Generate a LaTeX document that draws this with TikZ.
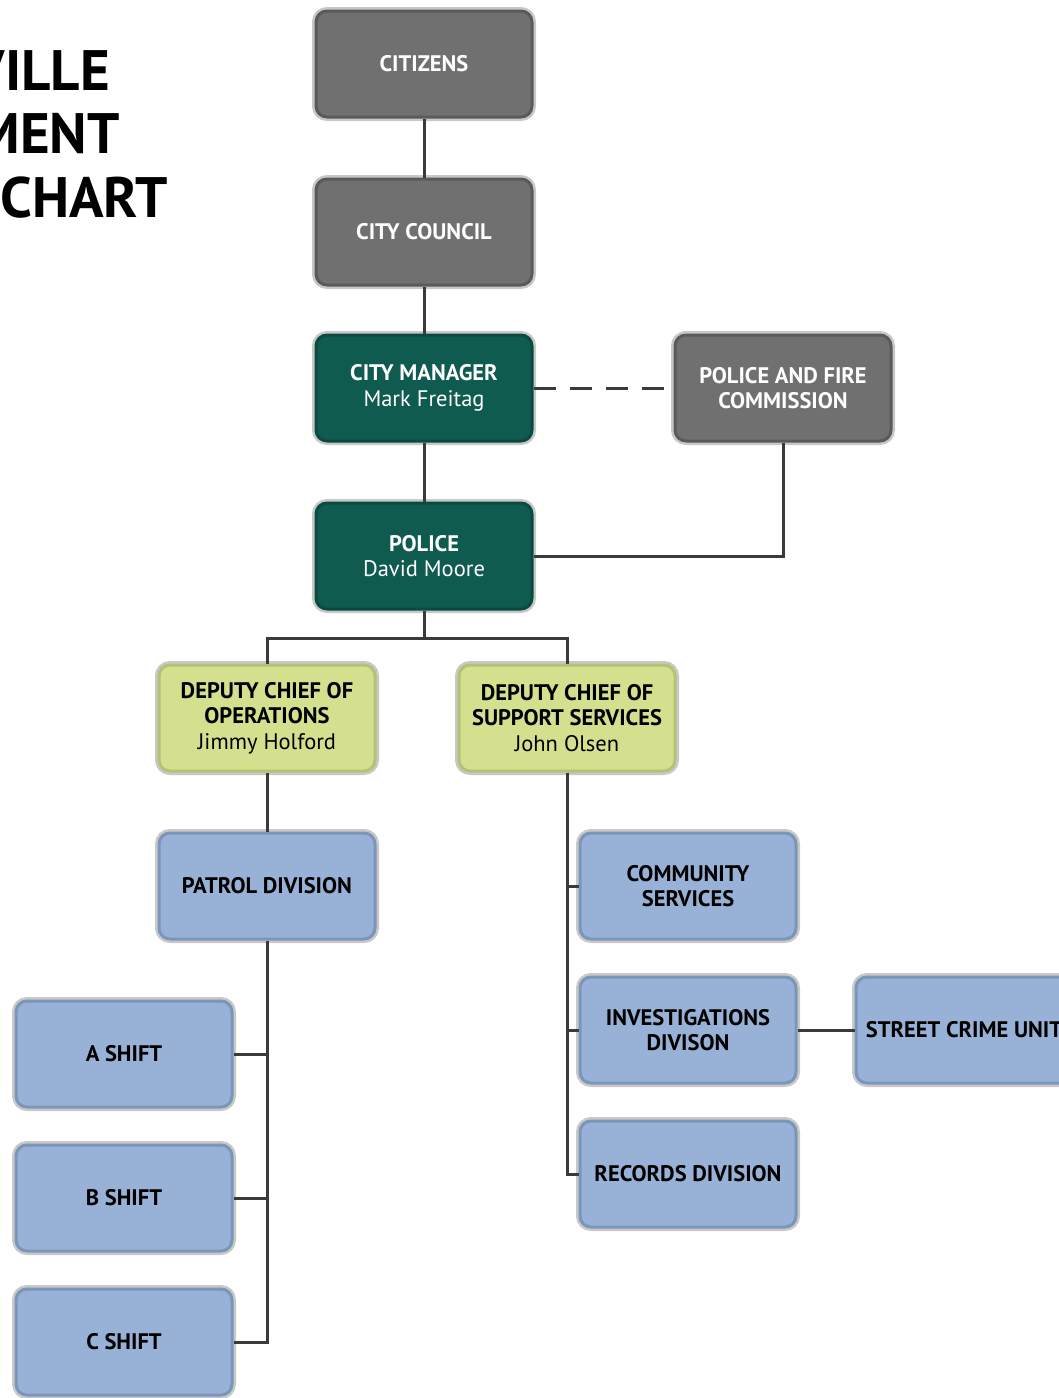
\documentclass[tikz,border=0pt]{standalone}
\usepackage{fontspec}
\setmainfont{PT Sans}
\definecolor{halo}{HTML}{C8C8C8}
\definecolor{greyfill}{HTML}{707070}
\definecolor{greyline}{HTML}{5A5A5A}
\definecolor{tealfill}{HTML}{0F5B50}
\definecolor{tealline}{HTML}{0A4A40}
\definecolor{limefill}{HTML}{D5E08F}
\definecolor{limeline}{HTML}{B5C274}
\definecolor{bluefill}{HTML}{98B2D7}
\definecolor{blueline}{HTML}{7C95BA}
\definecolor{wirecol}{HTML}{3A3A3A}
\tikzset{
  office/.style={rounded corners=11pt, minimum width=216pt, minimum height=106pt,
    align=center, line width=3pt, font=\fontsize{22.5}{25.5}\selectfont\bfseries,
    preaction={draw=halo, line width=8pt}},
  greybox/.style={office, fill=greyfill, draw=greyline, text=white},
  tealbox/.style={office, fill=tealfill, draw=tealline, text=white},
  limebox/.style={office, fill=limefill, draw=limeline, text=black},
  bluebox/.style={office, fill=bluefill, draw=blueline, text=black},
  wire/.style={draw=wirecol, line width=3pt},
  heading/.style={anchor=base east, inner sep=0pt, font=\fontsize{57}{60}\selectfont\bfseries}
}
% plain box: style, name, position, text
\newcommand{\unitbox}[4]{%
 \node[#1] (#2) at (#3) {#4};%
}
% box with a person: style, name, position, title, person
\newcommand{\officer}[5]{%
 \node[#1] (#2) at (#3) {#4\\\mdseries #5};%
}
\begin{document}
\begin{tikzpicture}[x=1pt,y=-1pt]
  \useasboundingbox (0,0) rectangle (1058,1398);
  \fill[white] (0,0) rectangle (1058,1398);
  % title
  \node[heading] (t1) at (110,90) {VILLE};
  \node[heading] (t2) at (120,153) {MENT};
  \node[heading] (t3) at (168,217) {CHART};
  % top of the chart
  \unitbox{greybox}{citizens}{424,64}{CITIZENS};
  \unitbox{greybox}{council}{424,232}{CITY COUNCIL};
  \officer{tealbox}{manager}{424,388}{CITY MANAGER}{Mark Freitag};
  \unitbox{greybox}{commission}{783,388}{POLICE AND FIRE\\COMMISSION};
  \officer{tealbox}{police}{424,556}{POLICE}{David Moore};
  % deputies
  \officer{limebox}{depops}{267,718}{DEPUTY CHIEF OF\\OPERATIONS}{Jimmy Holford};
  \officer{limebox}{depsup}{567,718}{DEPUTY CHIEF OF\\SUPPORT SERVICES}{John Olsen};
  % divisions
  \unitbox{bluebox}{patrol}{267,886}{PATROL DIVISION};
  \unitbox{bluebox}{community}{688,886}{COMMUNITY\\SERVICES};
  \unitbox{bluebox}{invest}{688,1030}{INVESTIGATIONS\\DIVISON};
  \unitbox{bluebox}{records}{688,1174}{RECORDS DIVISION};
  \unitbox{bluebox}{street}{964,1030}{STREET CRIME UNIT};
  \unitbox{bluebox}{ashift}{124,1054}{A SHIFT};
  \unitbox{bluebox}{bshift}{124,1198}{B SHIFT};
  \unitbox{bluebox}{cshift}{124,1342}{C SHIFT};
  % connectors
  \path[wire] (citizens) edge (council);
  \path[wire] (council) edge (manager);
  \path[wire] (manager) edge (police);
  \path[wire, dash pattern=on 22pt off 14pt] (manager) edge (commission);
  \draw[wire] (commission.south) |- (police.east);
  \draw[wire] (police.south) -- ++(0,28) coordinate (split);
  \draw[wire] (split) -| (depops.north);
  \draw[wire] (split) -| (depsup.north);
  \path[wire] (depops) edge (patrol);
  \draw[wire] (patrol.south) |- (ashift.east);
  \draw[wire] (patrol.south) |- (bshift.east);
  \draw[wire] (patrol.south) |- (cshift.east);
  \draw[wire] (depsup.south) |- (community.west);
  \draw[wire] (depsup.south) |- (invest.west);
  \draw[wire] (depsup.south) |- (records.west);
  \path[wire] (invest) edge (street);
\end{tikzpicture}
\end{document}
